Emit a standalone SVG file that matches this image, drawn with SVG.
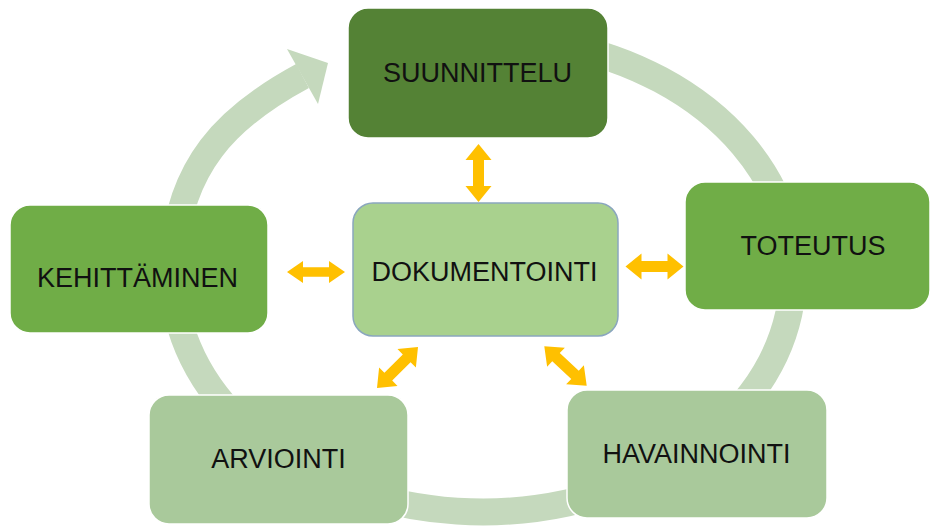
<svg xmlns="http://www.w3.org/2000/svg" width="931" height="528" viewBox="0 0 931 528">
  <style>
    .box { stroke: #ffffff; stroke-width: 1.5; }
    .dark { fill: #548235; }
    .mid { fill: #70AD47; }
    .pale { fill: #A9C99B; }
    .center { fill: #A9D18E; stroke: #8AA6BE; stroke-width: 1.5; }
    .lbl { font-family: "Liberation Sans", Arial, sans-serif; font-size: 27px; fill: #111111; text-anchor: middle; }
    .cycle { fill: none; stroke: #C5D9BD; stroke-width: 27; }
    .head { fill: #C5D9BD; }
    .dbl { fill: #FFC000; }
  </style>
  <defs>
    <path id="dblArrow" d="M -29 0 L -13 -13 L -13 -5.5 L 13 -5.5 L 13 -13 L 29 0 L 13 13 L 13 5.5 L -13 5.5 L -13 13 Z"/>
  </defs>
  <rect width="931" height="528" fill="#ffffff"/>

  <g id="connectors">
    <path class="cycle" d="M 560 44.4 A 310 237.5 0 1 1 173 274.5 C 173 164.5 232 114 302.5 76"/>
    <polygon class="head" points="287,49 328,63 318,104"/>
    <use href="#dblArrow" class="dbl" transform="translate(478.5,173) rotate(90)"/>
    <use href="#dblArrow" class="dbl" transform="translate(316,272) scale(1,0.85)"/>
    <use href="#dblArrow" class="dbl" transform="translate(654.5,266.5)"/>
    <use href="#dblArrow" class="dbl" transform="translate(397.5,367.5) rotate(-45)"/>
    <use href="#dblArrow" class="dbl" transform="translate(565.5,366) rotate(43)"/>
  </g>

  <g id="suunnittelu">
    <rect class="box dark" x="348" y="8" width="260" height="130" rx="20"/>
    <text class="lbl" x="477.5" y="82">SUUNNITTELU</text>
  </g>
  <g id="toteutus">
    <rect class="box mid" x="685" y="182" width="245" height="128" rx="20"/>
    <text class="lbl" x="813" y="255">TOTEUTUS</text>
  </g>
  <g id="kehittaminen">
    <rect class="box mid" x="10" y="205" width="258" height="128" rx="20"/>
    <text class="lbl" x="137.5" y="287">KEHITTÄMINEN</text>
  </g>
  <g id="dokumentointi">
    <rect class="center" x="353" y="203" width="265" height="133" rx="20"/>
    <text class="lbl" x="484.5" y="281">DOKUMENTOINTI</text>
  </g>
  <g id="havainnointi">
    <rect class="box pale" x="567" y="390" width="260" height="128" rx="20"/>
    <text class="lbl" x="696.5" y="463">HAVAINNOINTI</text>
  </g>
  <g id="arviointi">
    <rect class="box pale" x="149" y="395" width="259" height="129" rx="20"/>
    <text class="lbl" x="278.5" y="468">ARVIOINTI</text>
  </g>
</svg>
